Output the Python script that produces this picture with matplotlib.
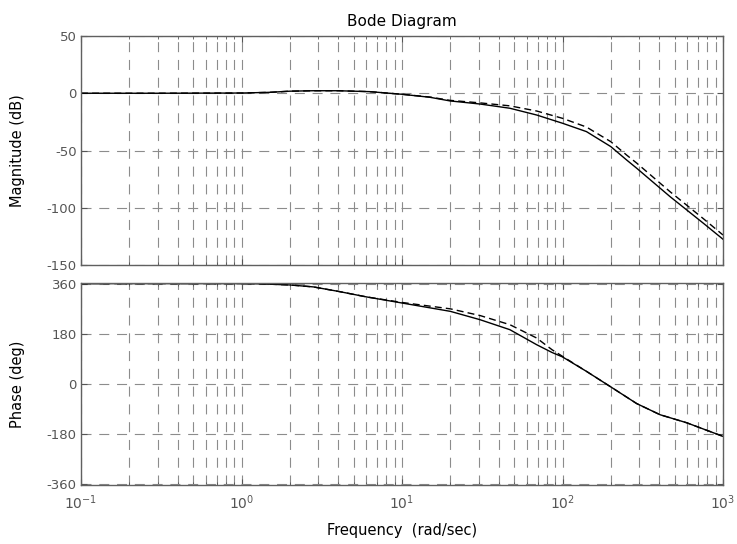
import numpy as np
import matplotlib
matplotlib.use("Agg")
import matplotlib.pyplot as plt
from matplotlib.ticker import LogLocator, NullFormatter, FixedLocator

plt.rcParams['font.family'] = ['DejaVu Sans']
plt.rcParams['mathtext.fontset'] = 'dejavusans'
plt.rcParams['axes.unicode_minus'] = False

# ---- data ----
freq = [0.1, 0.3, 1.0, 1.5, 2.0, 2.8, 4.0, 6.3, 10, 14.9, 19.9, 30.6, 47, 69, 100,
        141, 200, 251, 290, 468, 754, 1000]
mag_solid = [0.0, 0.0, 0.2, 0.8, 1.8, 2.2, 2.2, 1.4, -0.9, -3.5, -6.7, -9.4, -13.1,
             -19.0, -26.2, -33.5, -46.6, -58.3, -65.5, -90.3, -113.5, -127.5]
mag_dashed = [0.0, 0.0, 0.2, 0.8, 1.8, 2.2, 2.2, 1.4, -0.9, -3.3, -6.2, -8.4, -11.0,
              -15.5, -21.9, -29.5, -42.3, -54.0, -61.0, -86.0, -109.5, -123.8]

ph_freq = [0.1, 0.5, 1.0, 1.3, 2.0, 2.8, 4.0, 6.0, 10, 20, 30.6, 47, 69, 86, 100,
           141, 200, 290, 405, 594, 1000]
ph_solid = [360, 360, 360, 359, 355, 348, 332, 312, 290, 260, 230, 194, 140, 112, 96,
            44, -12, -72, -112, -141, -190]
ph_dashed = [360, 360, 360, 359, 355, 348, 332, 312, 292, 269, 245, 212, 164, 122, 98,
             44, -12, -72, -112, -141, -190]

mag_ticks = [-150, -100, -50, 0, 50]
ph_ticks = [-360, -180, 0, 180, 360]

W, H = 737, 544
fig = plt.figure(figsize=(W / 100, H / 100), dpi=100)
ax1 = fig.add_axes([81 / W, 1 - 265 / H, (723 - 81) / W, (265 - 36) / H])
ax2 = fig.add_axes([81 / W, 1 - 485 / H, (723 - 81) / W, (485 - 283) / H])

grid_kw = dict(color='#8c8c8c', linestyle=(0, (9, 7)), linewidth=0.8)
tick_col = '#555555'

for ax in (ax1, ax2):
    ax.set_xscale('log')
    ax.set_xlim(0.1, 1000)
    ax.xaxis.set_major_locator(LogLocator(base=10, numticks=10))
    ax.xaxis.set_minor_locator(LogLocator(base=10, subs=np.arange(2, 10), numticks=50))
    ax.xaxis.set_minor_formatter(NullFormatter())
    ax.grid(True, which='major', axis='both', **grid_kw)
    ax.grid(True, which='minor', axis='x', **grid_kw)
    ax.tick_params(which='both', direction='in', top=True, right=True,
                   colors=tick_col, labelsize=9.5)
    ax.tick_params(axis='y', pad=3)
    ax.tick_params(axis='x', pad=6, labelsize=10)
    ax.tick_params(which='major', length=4)
    ax.tick_params(which='minor', length=2.5)
    for s in ax.spines.values():
        s.set_color('#606060')
        s.set_linewidth(1.0)

ax1.plot(freq, mag_solid, color='black', linewidth=1.0, linestyle='-')
ax1.plot(freq, mag_dashed, color='black', linewidth=1.0, linestyle=(0, (5, 3)))
ax1.set_ylim(-150, 50)
ax1.yaxis.set_major_locator(FixedLocator(mag_ticks))
ax1.tick_params(axis='x', labelbottom=False)
ax1.set_ylabel('Magnitude (dB)', fontsize=10.5, color='black')
ax1.yaxis.set_label_coords(-0.087, 0.5)
ax1.set_title('Bode Diagram', fontsize=11, color='black', pad=7)

ax2.plot(ph_freq, ph_solid, color='black', linewidth=1.0, linestyle='-')
ax2.plot(ph_freq, ph_dashed, color='black', linewidth=1.0, linestyle=(0, (5, 3)))
ax2.set_ylim(-365, 362)
ax2.yaxis.set_major_locator(FixedLocator(ph_ticks))
ax2.set_ylabel('Phase (deg)', fontsize=10.5, color='black')
ax2.yaxis.set_label_coords(-0.087, 0.5)
ax2.set_xlabel('Frequency  (rad/sec)', fontsize=10.5, color='black', labelpad=8)

fig.savefig('out.png', dpi=100)
